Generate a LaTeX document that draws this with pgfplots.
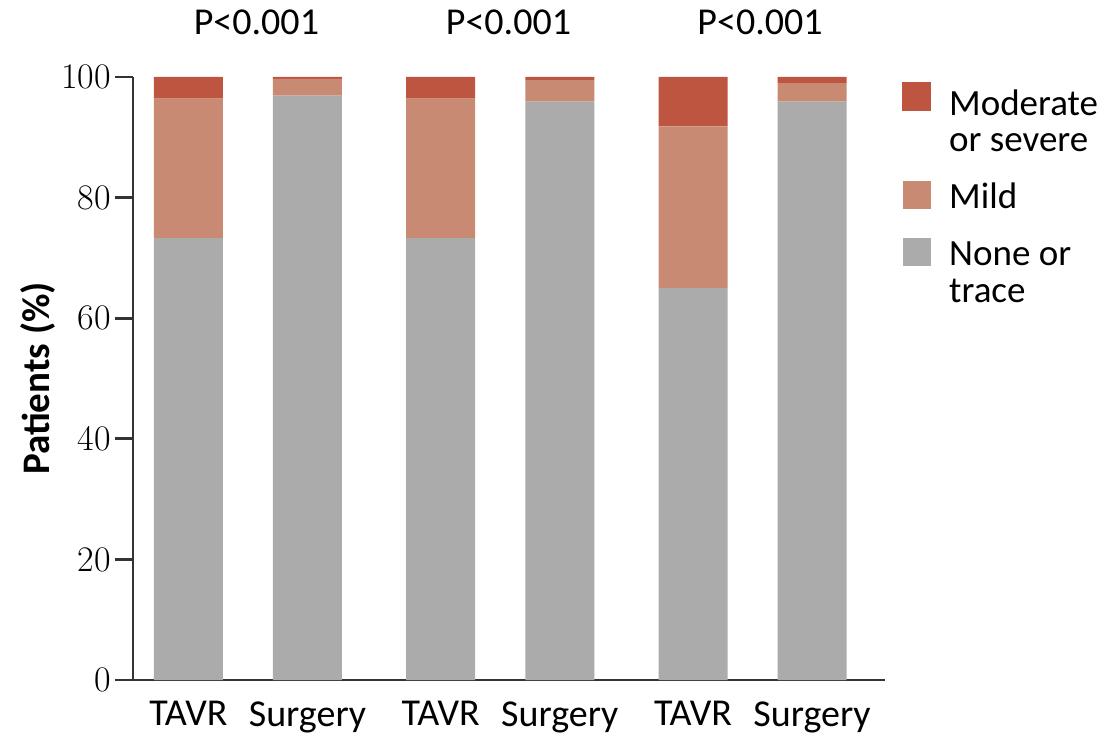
\documentclass[border=0pt]{standalone}
\usepackage{fontspec}
\setmainfont{Carlito}
\newfontfamily\lmr{Latin Modern Roman}
\usepackage{pgfplots}
\pgfplotsset{compat=1.18}
\definecolor{modc}{HTML}{BE5540}
\definecolor{mildc}{HTML}{C88A72}
\definecolor{nonec}{HTML}{ABABAB}
\definecolor{axc}{HTML}{333333}
\newcommand{\lent}[2]{\rule[-6pt]{0pt}{#1}#2}
\begin{document}
\fontsize{19}{22}\selectfont
\begin{tikzpicture}
\begin{axis}[
  scale only axis,
  width=376pt, height=301.5pt,
  xmin=-0.466, xmax=5.853,
  ymin=0, ymax=100,
  ybar stacked,
  bar width=34.5pt,
  axis x line*=bottom,
  axis y line*=left,
  axis line style={draw=axc, line width=1.4pt},
  xtick={0,1,2.12,3.12,4.24,5.24},
  xticklabels={TAVR,Surgery,TAVR,Surgery,TAVR,Surgery},
  x tick style={draw=none},
  xticklabel style={inner sep=0pt, anchor=north, yshift=-1.5pt, font=\fontsize{19}{22}\selectfont},
  ytick={0,20,40,60,80,100},
  y tick style={draw=axc, line width=1.4pt},
  major tick length=9pt,
  tick align=outside,
  /pgf/number format/assume math mode=true,
  yticklabel style={inner sep=2pt, font=\lmr\fontsize{18}{21}\selectfont},
  ylabel={\bfseries Patients (\%)},
  every axis y label/.style={at={(axis description cs:-0.1263,0.5)}, rotate=90, anchor=center, font=\fontsize{19.5}{22}\selectfont},
  clip=false,
  legend style={draw=none, fill=none, at={(axis description cs:1.0146,0.9992)}, anchor=north west,
    nodes={inner sep=0pt, anchor=base west}, row sep=0pt, font=\fontsize{18.5}{21}\selectfont,
    /tikz/every odd column/.append style={column sep=9pt}},
  legend cell align=left,
  legend image code/.code={\fill[#1, draw=none] (0pt,0pt) rectangle (14pt,14pt);},
]
\addlegendimage{legend image code/.code={\fill[modc] (0pt,2.5pt) rectangle (14pt,16.5pt);}}
\addlegendimage{empty legend}
\addlegendimage{fill=mildc}
\addlegendimage{fill=nonec}
\addlegendimage{empty legend}
\addplot[fill=nonec, draw=none] coordinates {(0,73.3) (1,96.9) (2.12,73.3) (3.12,95.9) (4.24,65.0) (5.24,95.9)};
\addplot[fill=mildc, draw=none] coordinates {(0,23.1) (1,2.8) (2.12,23.1) (3.12,3.6) (4.24,26.8) (5.24,3.1)};
\addplot[fill=modc, draw=none] coordinates {(0,3.6) (1,0.3) (2.12,3.6) (3.12,0.5) (4.24,8.2) (5.24,1.0)};
\legend{\lent{15pt}{Moderate},\lent{21.25pt}{or severe},\lent{31.75pt}{Mild},\lent{31.75pt}{None or},\lent{21.25pt}{trace}}
\node[inner sep=0pt] at (axis cs:0.571,109.0) {P<0.001};
\node[inner sep=0pt] at (axis cs:2.689,109.0) {P<0.001};
\node[inner sep=0pt] at (axis cs:4.803,109.0) {P<0.001};
\end{axis}
\pgfresetboundingbox
\path[use as bounding box] ([shift={(-66.5pt,-27.5pt)}]current axis.south west) rectangle ([shift={(491pt,340pt)}]current axis.south west);
\end{tikzpicture}
\end{document}
